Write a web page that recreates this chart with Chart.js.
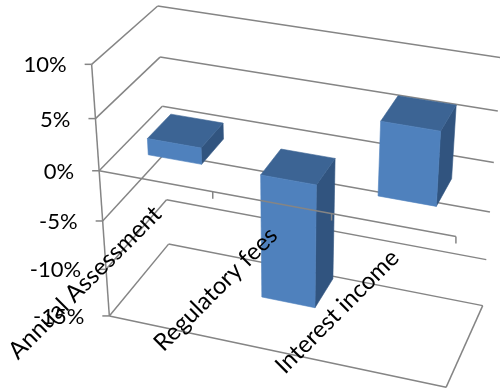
<!DOCTYPE html>
<html>
<head>
<meta charset="utf-8">
<script src="https://cdn.jsdelivr.net/npm/chart.js@4.4.1/dist/chart.umd.min.js"></script>
<style>
  html, body { margin: 0; padding: 0; background: #ffffff; }
  #wrap { width: 500px; height: 390px; }
</style>
</head>
<body>
<div id="wrap"><canvas id="chart" width="500" height="390"></canvas></div>
<script>
// ---- data ----
const categories = ['Annual Assessment', 'Regulatory fees', 'Interest income'];
const changes = [1.6, -12.5, 7.0];
const valueTicks = [-15, -10, -5, 0, 5, 10];
const valueMin = -15;
const valueMax = 10;

// ---- 3D frame: where the corners of the unit box (X across, Y up, Z into the page) land ----
const frameAnchors = [
  [0, 1.0, 0, 92, 64], [0, 0.8, 0, 95, 118], [0, 0.6, 0, 99.5, 170.5],
  [0, 0.4, 0, 102.5, 220], [0, 0.2, 0, 106, 270], [0, 0.0, 0, 110, 316],
  [1 / 3, 0.6, 0, 212, 192.5], [2 / 3, 0.6, 0, 331.5, 214], [1, 0.6, 0, 455, 237],
  [1, 0.0, 0, 447, 387],
  [0, 1.0, 1, 158, 6], [0, 0.8, 1, 160, 57], [0, 0.6, 1, 163, 107],
  [0, 0.2, 1, 166, 200], [0, 0.0, 1, 168, 244],
  [1, 0.0, 1, 482, 305], [1, 0.2, 1, 487, 260], [1, 0.4, 1, 490, 212], [1, 0.6, 1, 494, 162]
];

const style = {
  grid: '#858585',
  gridWidth: 1.5,
  front: '#4F81BD',
  top: '#3C6494',
  side: '#31547F',
  text: '#000000',
  valueFont: '22px Lato, "Open Sans", sans-serif',
  categoryFont: '24px Lato, "Open Sans", sans-serif',
  barWidth: 0.48,      // share of a category slot
  barDepth: [0.31, 0.69]
};

// Least-squares fit of a 3x4 perspective matrix to the frame anchors
function fitProjection(pairs) {
  const S = 500, n = 11;
  const M = Array.from({ length: n }, () => new Array(n + 1).fill(0));
  const add = (r, b) => {
    for (let i = 0; i < n; i++) {
      for (let j = 0; j < n; j++) M[i][j] += r[i] * r[j];
      M[i][n] += r[i] * b;
    }
  };
  for (const [X, Y, Z, pu, pv] of pairs) {
    const u = pu / S, v = pv / S;
    add([X, Y, Z, 1, 0, 0, 0, 0, -u * X, -u * Y, -u * Z], u);
    add([0, 0, 0, 0, X, Y, Z, 1, -v * X, -v * Y, -v * Z], v);
  }
  for (let c = 0; c < n; c++) {
    let p = c;
    for (let r = c + 1; r < n; r++) if (Math.abs(M[r][c]) > Math.abs(M[p][c])) p = r;
    [M[c], M[p]] = [M[p], M[c]];
    for (let r = 0; r < n; r++) {
      if (r === c) continue;
      const f = M[r][c] / M[c][c];
      for (let j = c; j <= n; j++) M[r][j] -= f * M[c][j];
    }
  }
  const q = M.map((row, i) => row[n] / row[i]);
  return (X, Y, Z) => {
    const w = q[8] * X + q[9] * Y + q[10] * Z + 1;
    return {
      x: S * (q[0] * X + q[1] * Y + q[2] * Z + q[3]) / w,
      y: S * (q[4] * X + q[5] * Y + q[6] * Z + q[7]) / w
    };
  };
}
const project = fitProjection(frameAnchors);

function line(ctx, a, b) {
  ctx.beginPath();
  ctx.moveTo(a.x, a.y);
  ctx.lineTo(b.x, b.y);
  ctx.stroke();
}
function face(ctx, pts, color) {
  ctx.beginPath();
  ctx.moveTo(pts[0].x, pts[0].y);
  for (let i = 1; i < pts.length; i++) ctx.lineTo(pts[i].x, pts[i].y);
  ctx.closePath();
  ctx.fillStyle = color;
  ctx.fill();
  ctx.strokeStyle = color;
  ctx.lineWidth = 0.6;
  ctx.stroke();
}

const perspectiveColumns = {
  id: 'perspectiveColumns',
  beforeDatasetsDraw(chart) {
    const ctx = chart.ctx;
    const area = chart.chartArea;
    const xs = chart.scales.x, ys = chart.scales.y;
    // scale pixels -> unit box coordinates
    const nx = px => (px - area.left) / area.width;
    const ny = v => (area.bottom - ys.getPixelForValue(v)) / area.height;
    const slot = (xs.getPixelForValue(1) - xs.getPixelForValue(0)) / area.width;
    const P = (X, v, Z) => project(X, ny(v), Z);

    ctx.save();
    ctx.lineCap = 'butt';
    ctx.strokeStyle = style.grid;
    ctx.lineWidth = style.gridWidth;

    // side wall and back wall gridlines
    for (const t of valueTicks) {
      line(ctx, P(0, t, 0), P(0, t, 1));
      line(ctx, P(0, t, 1), P(1, t, 1));
    }
    // floor outline
    line(ctx, P(0, valueMin, 0), P(1, valueMin, 0));
    line(ctx, P(1, valueMin, 0), P(1, valueMin, 1));

    // columns
    const [z0, z1] = style.barDepth;
    changes.forEach((v, i) => {
      const cx = nx(xs.getPixelForValue(i));
      const x0 = cx - slot * style.barWidth / 2;
      const x1 = cx + slot * style.barWidth / 2;
      const lo = Math.min(0, v), hi = Math.max(0, v);
      face(ctx, [P(x1, lo, z0), P(x1, lo, z1), P(x1, hi, z1), P(x1, hi, z0)], style.side);
      face(ctx, [P(x0, hi, z0), P(x1, hi, z0), P(x1, hi, z1), P(x0, hi, z1)], style.top);
      face(ctx, [P(x0, lo, z0), P(x1, lo, z0), P(x1, hi, z0), P(x0, hi, z0)], style.front);
    });

    // value axis on the front-left edge, with tick marks and labels
    ctx.strokeStyle = style.grid;
    ctx.lineWidth = style.gridWidth;
    line(ctx, P(0, valueMin, 0), P(0, valueMax, 0));
    ctx.font = style.valueFont;
    ctx.fillStyle = style.text;
    ctx.textAlign = 'right';
    ctx.textBaseline = 'middle';
    for (const t of valueTicks) {
      const p = P(0, t, 0);
      line(ctx, p, { x: p.x - 7, y: p.y });
      ctx.fillText(t + '%', p.x - 25, p.y + 1);
    }

    // category axis at zero on the front plane
    line(ctx, P(0, 0, 0), P(1, 0, 0));
    for (let k = 1; k <= categories.length; k++) {
      const bx = nx(xs.getPixelForValue(k - 1)) + slot / 2;
      const p = P(bx, 0, 0);
      line(ctx, p, { x: p.x, y: p.y + 7 });
    }

    // rotated category labels
    ctx.font = style.categoryFont;
    categories.forEach((name, i) => {
      const p = P(nx(xs.getPixelForValue(i)), 0, 0);
      ctx.save();
      ctx.translate(p.x + 2, p.y + 29);
      ctx.rotate(-Math.PI / 4);
      ctx.textAlign = 'right';
      ctx.textBaseline = 'middle';
      ctx.fillText(name, 0, 0);
      ctx.restore();
    });

    ctx.restore();
    return false;
  }
};

new Chart(document.getElementById('chart'), {
  type: 'bar',
  data: {
    labels: categories,
    datasets: [{ data: changes, backgroundColor: style.front, borderWidth: 0 }]
  },
  options: {
    responsive: false,
    animation: false,
    layout: { padding: 0 },
    plugins: { legend: { display: false }, tooltip: { enabled: false } },
    scales: {
      x: { display: false, offset: true },
      y: { display: false, min: valueMin, max: valueMax, ticks: { stepSize: 5 } }
    }
  },
  plugins: [perspectiveColumns]
});
</script>
</body>
</html>
